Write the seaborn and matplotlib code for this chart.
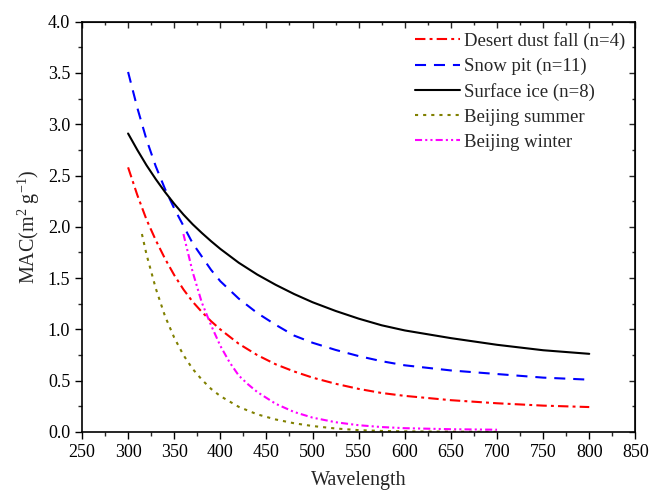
import numpy as np
import pandas as pd
import matplotlib
matplotlib.use("Agg")
import matplotlib.pyplot as plt
import seaborn as sns

# ---- data ----
wl_full = [300, 310, 320, 330, 340, 350, 360, 370, 380, 390, 400, 420, 440, 460,
           480, 500, 525, 550, 575, 600, 650, 700, 750, 800]
desert_dust = [2.58, 2.31, 2.07, 1.87, 1.69, 1.53, 1.39, 1.27, 1.17, 1.08, 1.00, 0.86,
               0.75, 0.66, 0.59, 0.53, 0.47, 0.42, 0.38, 0.352, 0.31, 0.28, 0.257, 0.243]
snow_pit = [3.51, 3.16, 2.85, 2.59, 2.37, 2.18, 2.01, 1.84, 1.71, 1.58, 1.47, 1.30,
            1.16, 1.045, 0.94, 0.87, 0.80, 0.74, 0.69, 0.65, 0.60, 0.565, 0.53, 0.51]
surface_ice = [2.91, 2.75, 2.60, 2.465, 2.34, 2.225, 2.12, 2.025, 1.94, 1.86, 1.785, 1.65,
               1.535, 1.435, 1.345, 1.265, 1.18, 1.105, 1.04, 0.99, 0.915, 0.85, 0.797, 0.762]

wl_summer = [315, 320, 330, 340, 350, 360, 370, 380, 390, 400, 420, 440, 460, 480,
             500, 525, 550, 575, 600, 650, 700]
beijing_summer = [1.93, 1.73, 1.40, 1.13, 0.92, 0.75, 0.615, 0.51, 0.42, 0.35, 0.245,
                  0.172, 0.122, 0.085, 0.058, 0.034, 0.018, 0.010, 0.006, 0.003, 0.001]

wl_winter = [360, 370, 380, 390, 400, 410, 420, 430, 440, 460, 480, 500, 525, 550,
             575, 600, 650, 700]
beijing_winter = [1.93, 1.56, 1.26, 1.04, 0.84, 0.68, 0.55, 0.465, 0.39, 0.275, 0.195,
                  0.14, 0.095, 0.066, 0.048, 0.037, 0.027, 0.022]

labels = ["Desert dust fall (n=4)", "Snow pit (n=11)", "Surface ice (n=8)",
          "Beijing summer", "Beijing winter"]
x_ticks = [250, 300, 350, 400, 450, 500, 550, 600, 650, 700, 750, 800, 850]
y_ticks = [0.0, 0.5, 1.0, 1.5, 2.0, 2.5, 3.0, 3.5, 4.0]

series = [
    (wl_full, desert_dust, labels[0], "#FF0000", (0, (5, 2, 1.4, 2))),
    (wl_full, snow_pit, labels[1], "#0000FF", (0, (5.3, 3.8))),
    (wl_full, surface_ice, labels[2], "#000000", "-"),
    (wl_summer, beijing_summer, labels[3], "#808000", (0, (1.5, 2.4))),
    (wl_winter, beijing_winter, labels[4], "#FF00FF", (0, (3.4, 1.5, 1.0, 1.5, 1.0, 1.5))),
]

sns.set_style("ticks")
plt.rcParams["font.family"] = ["Liberation Serif", "DejaVu Serif"]
plt.rcParams["mathtext.fontset"] = "custom"
plt.rcParams["mathtext.rm"] = "Liberation Serif"
plt.rcParams["mathtext.it"] = "Liberation Serif:italic"

fig = plt.figure(figsize=(6.49, 4.90), dpi=100)
ax = fig.add_axes([0.1263, 0.1184, 0.979 - 0.1263, 0.9557 - 0.1184])

for wl, vals, lab, col, ls in series:
    df = pd.DataFrame({"Wavelength": wl, "MAC": vals})
    sns.lineplot(data=df, x="Wavelength", y="MAC", ax=ax, color=col,
                 linestyle=ls, linewidth=1.5, label=lab)

ax.set_xlim(250, 850)
ax.set_ylim(0, 4.0)
ax.set_xticks(x_ticks)
ax.set_yticks(y_ticks)
ax.set_xticks(np.arange(275, 850, 50), minor=True)
ax.set_yticks(np.arange(0.25, 4.0, 0.5), minor=True)
ax.set_yticklabels([f"{v:.1f}" for v in y_ticks])
ax.tick_params(axis="both", which="major", direction="out", length=5, width=1,
               labelsize=13, colors="black")
ax.tick_params(axis="both", which="minor", direction="out", length=3, width=1)
for sp in ax.spines.values():
    sp.set_linewidth(1.2)
    sp.set_color("black")

# mirrored inward ticks on top and right
secx = ax.secondary_xaxis("top")
secx.set_xticks(x_ticks)
secx.set_xticks(np.arange(275, 850, 50), minor=True)
secx.tick_params(which="major", direction="in", length=4, width=1, labeltop=False)
secx.tick_params(which="minor", direction="in", length=2.5, width=1)
secy = ax.secondary_yaxis("right")
secy.set_yticks(y_ticks)
secy.set_yticks(np.arange(0.25, 4.0, 0.5), minor=True)
secy.tick_params(which="major", direction="in", length=4, width=1, labelright=False)
secy.tick_params(which="minor", direction="in", length=2.5, width=1)

ax.set_xlabel("Wavelength", fontsize=14.5, labelpad=7)
ax.set_ylabel(r"MAC(m$^{2}$ g$^{-1}$)", fontsize=14.5, labelpad=4)

ax.legend(loc="upper right", bbox_to_anchor=(1.0, 1.0), frameon=False, fontsize=13.5,
          handlelength=2.4, handletextpad=0.2, labelspacing=0.42, borderaxespad=0.15)

fig.savefig("out.png", dpi=100)
